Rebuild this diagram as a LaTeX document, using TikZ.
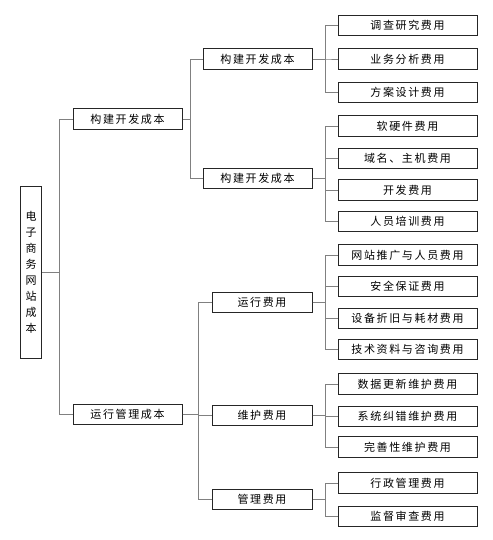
\documentclass[tikz,border=0pt]{standalone}
\usepackage{fontspec}
\setmainfont{Noto Sans CJK SC}[LetterSpace=15]
\usepackage{tikz}
\usetikzlibrary{calc}

\begin{document}
\begin{tikzpicture}[x=1pt, y=-1pt,
        box/.style={draw=black!85, line width=1pt, fill=white, inner sep=0pt,
                    minimum height=20.5pt, font=\fontsize{11}{13}\selectfont},
        link/.style={draw=gray, line width=0.6pt}]
        \useasboundingbox (0,0) rectangle (492,540);

        % Root (vertical text)
        \node[box, minimum width=21pt, minimum height=172pt, align=center,
              font=\fontsize{11}{16}\selectfont] (root) at (31,272)
              {电\\子\\商\\务\\网\\站\\成\\本};

        % First level
        \node[box, minimum width=109pt] (dev) at (127.5,119) {构建开发成本};
        \node[box, minimum width=109pt] (ops) at (127.5,414.5) {运行管理成本};

        % Second level
        \node[box, minimum width=109pt] (devA) at (257.5,59) {构建开发成本};
        \node[box, minimum width=109pt] (devB) at (257.5,178.5) {构建开发成本};
        \node[box, minimum width=100pt] (run) at (262,302.5) {运行费用};
        \node[box, minimum width=100pt] (maint) at (262,415.5) {维护费用};
        \node[box, minimum width=100pt] (admin) at (262,499.5) {管理费用};

        % Third level
        \node[box, minimum width=139pt] (survey) at (407.5,25.5) {调查研究费用};
        \node[box, minimum width=139pt] (analysis) at (407.5,59) {业务分析费用};
        \node[box, minimum width=139pt] (design) at (407.5,92.5) {方案设计费用};
        \node[box, minimum width=139pt] (soft) at (407.5,126) {软硬件费用};
        \node[box, minimum width=139pt] (domain) at (407.5,158.5) {域名、主机费用};
        \node[box, minimum width=139pt] (devfee) at (407.5,190) {开发费用};
        \node[box, minimum width=139pt] (train) at (407.5,221.5) {人员培训费用};
        \node[box, minimum width=139pt] (promo) at (407.5,255) {网站推广与人员费用};
        \node[box, minimum width=139pt] (safety) at (407.5,286.5) {安全保证费用};
        \node[box, minimum width=139pt] (equip) at (407.5,318.5) {设备折旧与耗材费用};
        \node[box, minimum width=139pt] (tech) at (407.5,349.5) {技术资料与咨询费用};
        \node[box, minimum width=139pt] (data) at (407.5,384) {数据更新维护费用};
        \node[box, minimum width=139pt] (fix) at (407.5,416.5) {系统纠错维护费用};
        \node[box, minimum width=139pt] (perfect) at (407.5,447) {完善性维护费用};
        \node[box, minimum width=139pt] (office) at (407.5,483) {行政管理费用};
        \node[box, minimum width=139pt] (audit) at (407.5,516.5) {监督审查费用};

        % Connectors
        \foreach \c in {dev,ops}
            \draw[link] (root.east) -- ++(17,0) |- (\c.west);
        \foreach \c in {devA,devB}
            \draw[link] (dev.east) -- ++(8,0) |- (\c.west);
        \foreach \c in {run,maint,admin}
            \draw[link] (ops.east) -- ++(16,0) |- (\c.west);
        \foreach \c in {survey,analysis,design}
            \draw[link] (devA.east) -- ++(13,0) |- (\c.west);
        \foreach \c in {soft,domain,devfee,train}
            \draw[link] (devB.east) -- ++(13,0) |- (\c.west);
        \foreach \c in {promo,safety,equip,tech}
            \draw[link] (run.east) -- ++(13,0) |- (\c.west);
        \foreach \c in {data,fix,perfect}
            \draw[link] (maint.east) -- ++(13,0) |- (\c.west);
        \foreach \c in {office,audit}
            \draw[link] (admin.east) -- ++(13,0) |- (\c.west);
    \end{tikzpicture}
\end{document}
